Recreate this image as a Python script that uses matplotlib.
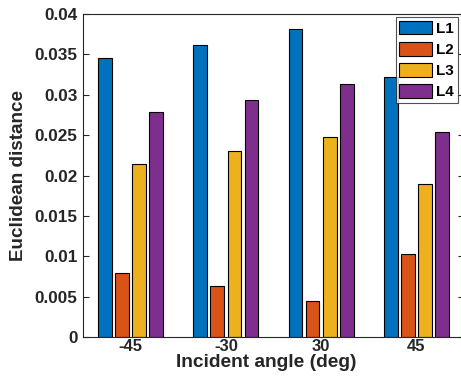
import matplotlib
matplotlib.use("Agg")
import matplotlib.pyplot as plt
import numpy as np

plt.rcParams['font.family'] = ['Liberation Sans', 'DejaVu Sans']
plt.rcParams['font.weight'] = 'bold'

categories = ['-45', '-30', '30', '45']
series_names = ['L1', 'L2', 'L3', 'L4']
L1 = [0.0346, 0.0362, 0.0381, 0.0322]
L2 = [0.0079, 0.0063, 0.0044, 0.0103]
L3 = [0.0214, 0.0230, 0.0248, 0.0190]
L4 = [0.0279, 0.0294, 0.0313, 0.0254]
yticks = [0, 0.005, 0.01, 0.015, 0.02, 0.025, 0.03, 0.035, 0.04]
ytick_labels = ['0', '0.005', '0.01', '0.015', '0.02', '0.025', '0.03', '0.035', '0.04']
colors = ['#0072BD', '#D95319', '#EDB120', '#7E2F8E']
dark = '#262626'

fig = plt.figure(figsize=(4.61, 3.77), dpi=100)
W, H = 461, 377
left, right, top, bottom = 83, 464, 14, 337
aw, ah = right - left, bottom - top
ax = fig.add_axes([left / W, 1 - bottom / H, aw / W, ah / H])

x = np.arange(1, len(categories) + 1)
pitch = 0.18
width = 0.144
for i, (vals, name) in enumerate(zip([L1, L2, L3, L4], series_names)):
    ax.bar(x + (i - 1.5) * pitch, vals, width, color=colors[i], edgecolor='black',
           linewidth=0.8, label=name)

ax.set_xlim(0.5, 4.5)
ax.set_ylim(0, 0.04)
ax.set_xticks(x)
ax.set_xticklabels(categories)
ax.set_yticks(yticks)
ax.set_yticklabels(ytick_labels)
ax.tick_params(direction='in', length=4, width=0.8, colors=dark, labelsize=12.3,
               right=True, top=False)
ax.tick_params(axis='x', pad=1.5, labelsize=12, length=0)
ax.tick_params(axis='y', pad=4)
for lab in ax.get_xticklabels() + ax.get_yticklabels():
    lab.set_fontweight('bold')
    lab.set_color(dark)
for s in ax.spines.values():
    s.set_color(dark)
    s.set_linewidth(0.8)

ax.set_xlabel('Incident angle (deg)', fontsize=13.8, fontweight='bold', color=dark)
ax.xaxis.set_label_coords((266 - left) / aw, -(367 - bottom) / ah)
ax.xaxis.label.set_va('baseline')
ax.set_ylabel('Euclidean distance', fontsize=13.6, fontweight='bold', color=dark)
ax.yaxis.set_label_coords((27 - left) / aw, 0.5)

leg = ax.legend(loc='upper right', bbox_to_anchor=((458 - left) / aw, 1 - (17 - top) / ah),
                fontsize=11, frameon=True, fancybox=False, edgecolor=dark,
                handlelength=2.16, handleheight=1.0, handletextpad=0.26,
                borderpad=0.25, labelspacing=0.4, borderaxespad=0)
leg.get_frame().set_linewidth(0.8)
for t in leg.get_texts():
    t.set_fontweight('bold')

fig.savefig('out.png', dpi=100)
